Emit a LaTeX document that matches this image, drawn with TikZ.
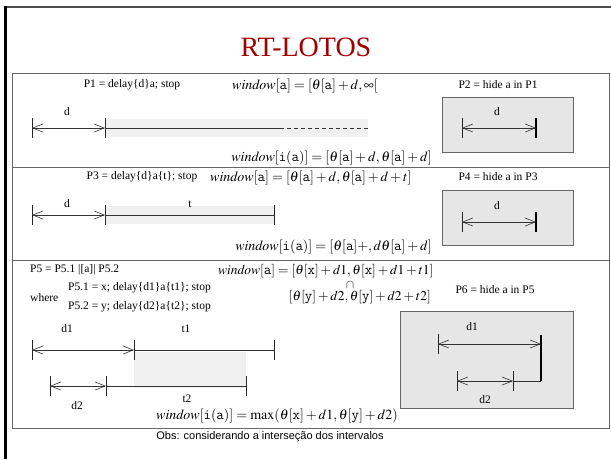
\documentclass[tikz,border=0pt]{standalone}
\usepackage{mathptmx}
\usepackage[no-math]{fontspec}
\setmainfont{Liberation Serif}
\newfontfamily\obsfont{Liberation Sans}
\usetikzlibrary{arrows.meta}
\definecolor{titlered}{RGB}{160,0,0}
\definecolor{bandgray}{RGB}{240,240,240}
\definecolor{boxgray}{RGB}{230,230,230}
\tikzset{
  dimarrow/.style={{Straight Barb[length=10pt,width=8pt]}-{Straight Barb[length=10pt,width=8pt]}, line width=0.6pt, draw=black!80},
  plainline/.style={line width=0.6pt, draw=black!80},
  tickbar/.style={line width=0.7pt, draw=black!85},
  thickbar/.style={line width=1.4pt, draw=black},
  lbl/.style={font=\fontsize{11.5}{13}\selectfont, inner sep=0pt},
  eqn/.style={font=\fontsize{14}{16}\selectfont, inner sep=0pt},
  eqnsm/.style={font=\fontsize{13.5}{16}\selectfont, inner sep=0pt},
  hidebox/.style={draw=black!60, fill=boxgray, line width=0.8pt},
  band/.style={fill=bandgray, draw=none},
  divider/.style={draw=black!60, line width=0.9pt},
}
\newcommand{\tickat}[4][tickbar]{\draw[#1] (#2,#3-#4) -- (#2,#3+#4);}
\begin{document}
\begin{tikzpicture}[x=1pt,y=-1pt]
\useasboundingbox (0,0) rectangle (611,459);
\fill[white] (0,0) rectangle (611,459);
% slide frame
\draw[black!70, line width=1.6pt] (5,7) -- (611,7);
\draw[black, line width=3pt] (5.5,6) -- (5.5,459);
% title
\node[font=\fontsize{28}{30}\selectfont, text=titlered, inner sep=0pt] (title) at (306,47) {RT-LOTOS};
% content box and dividers
\draw[divider] (12.5,73) rectangle (609,428);
\draw[divider] (12.5,167) -- (609,167);
\draw[divider] (12.5,260) -- (609,260);

% ---------- Section 1 ----------
\node[lbl] (p1) at (132,85) {P1 = delay\{d\}a; stop};
\node[eqn, anchor=base west] (w1) at (232,89) {$\mathit{window}[\mathtt{a}] = [\theta[\mathtt{a}] + d, \infty[$};
\node[lbl] (p2) at (498,85) {P2 = hide a in P1};
\fill[band] (105,119) rectangle (368,137);
\coordinate (s1a) at (32,128);
\coordinate (s1b) at (105,128);
\coordinate (s1c) at (280,128);
\coordinate (s1d) at (368,128);
\tickat{32}{128}{10}
\tickat{105}{128}{10}
\draw[dimarrow] (s1a) -- (s1b);
\draw[plainline] (s1b) -- (s1c);
\draw[plainline, dashed, dash pattern=on 4pt off 3pt] (s1c) -- (s1d);
\node[lbl] (d1lab) at (67,112) {d};
\node[eqn, anchor=base east] (wi1) at (432,161) {$\mathit{window}[\mathtt{i(a)}] = [\theta[\mathtt{a}] + d, \theta[\mathtt{a}] + d]$};
\draw[hidebox] (442,97) rectangle (573,152);
\coordinate (h1a) at (462,128);
\coordinate (h1b) at (536,128);
\tickat{462}{128}{10}
\tickat[thickbar]{536}{128}{10}
\draw[dimarrow] (h1a) -- (h1b);
\node[lbl] (h1lab) at (497,112) {d};

% ---------- Section 2 ----------
\node[lbl] (p3) at (142,177) {P3 = delay\{d\}a\{t\}; stop};
\node[eqn, anchor=base west] (w2) at (210,181) {$\mathit{window}[\mathtt{a}] = [\theta[\mathtt{a}] + d, \theta[\mathtt{a}] + d + t]$};
\node[lbl] (p4) at (498,177) {P4 = hide a in P3};
\fill[band] (105,206) rectangle (274,224);
\coordinate (s2a) at (32,215);
\coordinate (s2b) at (105,215);
\coordinate (s2c) at (274,215);
\tickat{32}{215}{10}
\tickat{105}{215}{10}
\tickat{274}{215}{10}
\draw[dimarrow] (s2a) -- (s2b);
\draw[plainline] (s2b) -- (s2c);
\node[lbl] (d2lab) at (67,204) {d};
\node[lbl] (t2lab) at (190,204) {t};
\node[eqn, anchor=base east] (wi2) at (432,250) {$\mathit{window}[\mathtt{i(a)}] = [\theta[\mathtt{a}]{+}, d\theta[\mathtt{a}] + d]$};
\draw[hidebox] (442,190) rectangle (573,245);
\coordinate (h2a) at (462,222);
\coordinate (h2b) at (536,222);
\tickat{462}{222}{10}
\tickat[thickbar]{536}{222}{10}
\draw[dimarrow] (h2a) -- (h2b);
\node[lbl] (h2lab) at (497,206) {d};

% ---------- Section 3 ----------
\node[lbl, anchor=west] (p5) at (30,270) {P5 = P5.1 |[a]| P5.2};
\node[lbl, anchor=west] (where) at (30,298) {where};
\node[lbl, anchor=west] (p51) at (68,288) {P5.1 = x; delay\{d1\}a\{t1\}; stop};
\node[lbl, anchor=west] (p52) at (68,307) {P5.2 = y; delay\{d2\}a\{t2\}; stop};
\node[eqnsm, anchor=base west] (w3) at (218,274) {$\mathit{window}[\mathtt{a}] = [\theta[\mathtt{x}] + d1, \theta[\mathtt{x}] + d1 + t1]$};
\node[font=\fontsize{12}{14}\selectfont, inner sep=0pt] (cap) at (350,285) {$\cap$};
\node[eqnsm, anchor=base east] (w3b) at (431,300) {$[\theta[\mathtt{y}] + d2, \theta[\mathtt{y}] + d2 + t2]$};
\node[lbl] (p6) at (495,290) {P6 = hide a in P5};
\fill[band] (134,352) rectangle (246,388);
\coordinate (s3a) at (32,350);
\coordinate (s3b) at (134,350);
\coordinate (s3c) at (274,350);
\tickat{32}{350}{10}
\tickat{134}{350}{10}
\tickat{274}{350}{10}
\draw[dimarrow] (s3a) -- (s3b);
\draw[plainline] (s3b) -- (s3c);
\coordinate (s4a) at (50,386);
\coordinate (s4b) at (106,386);
\coordinate (s4c) at (246,386);
\tickat{50}{386}{10}
\tickat{106}{386}{10}
\tickat{246}{386}{10}
\draw[dimarrow] (s4a) -- (s4b);
\draw[plainline] (s4b) -- (s4c);
\node[lbl] (d31lab) at (67,329) {d1};
\node[lbl] (t31lab) at (186,329) {t1};
\node[lbl] (d32lab) at (77,406) {d2};
\node[lbl] (t32lab) at (187,399) {t2};
\node[eqn, anchor=base west] (wi3) at (156,419) {$\mathit{window}[\mathtt{i(a)}] = \max(\theta[\mathtt{x}] + d1, \theta[\mathtt{y}] + d2)$};
\draw[hidebox] (400,311) rectangle (573,408);
\coordinate (h3a) at (438,344);
\coordinate (h3b) at (541,344);
\coordinate (h3c) at (541,381);
\coordinate (h3d) at (513,381);
\coordinate (h3e) at (457,381);
\tickat{438}{344}{10}
\draw[thickbar] (541,335) -- (h3c);
\draw[dimarrow] (h3a) -- (h3b);
\draw[plainline] (h3c) -- (h3d);
\tickat{457}{381}{10}
\tickat{513}{381}{10}
\draw[dimarrow] (h3e) -- (h3d);
\node[lbl] (h3lab1) at (472,327) {d1};
\node[lbl] (h3lab2) at (485,400) {d2};

% ---------- Obs ----------
\node[font=\obsfont\fontsize{11}{13}\selectfont, inner sep=0pt] (obs) at (270,437) {Obs: considerando a interseção dos intervalos};
\end{tikzpicture}
\end{document}
